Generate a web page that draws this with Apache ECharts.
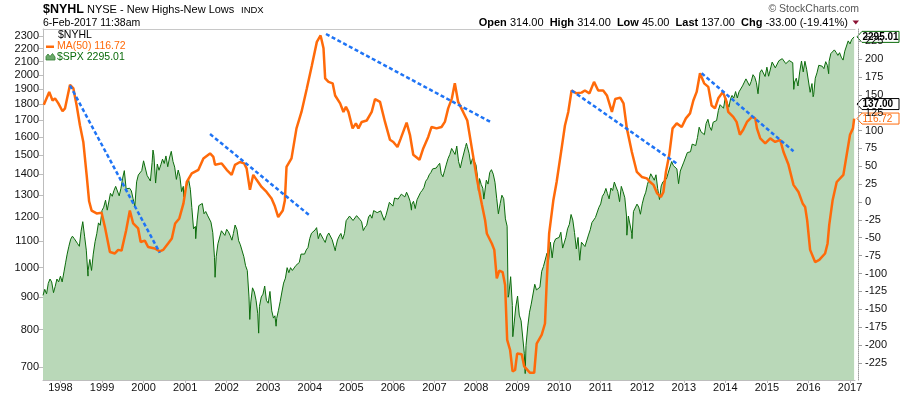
<!DOCTYPE html>
<html>
<head>
<meta charset="utf-8">
<script src="https://cdn.jsdelivr.net/npm/echarts@6/dist/echarts.min.js"></script>
<style>
  html, body { margin: 0; padding: 0; background: #fff; }
  #chart { width: 900px; height: 396px; }
</style>
</head>
<body>
<div id="chart"></div>
<script>
// x axis labels
const yearLabels = [1998, 1999, 2000, 2001, 2002, 2003, 2004, 2005, 2006, 2007,
  2008, 2009, 2010, 2011, 2012, 2013, 2014, 2015, 2016, 2017]
const leftTicks = [700, 800, 900, 1000, 1100, 1200, 1300, 1400, 1500, 1600, 1700,
  1800, 1900, 2000, 2100, 2200, 2300]
const rightTicks = [-225, -200, -175, -150, -125, -100, -75, -50, -25, 0,
  25, 50, 75, 100, 125, 150, 175, 200, 225]

// $SPX, read on the 1st and 16th of each month, starting Aug 1997
const spxHalfMonth = [
  905, 925, 910, 945, 960, 950, 914, 935, 960, 950,
  970, 950, 985, 1020, 1050, 1080, 1108, 1120, 1111, 1105, 1090, 1080, 1140, 1180, 1120, 1065, 990, 1030, 990, 1050, 1098, 1130, 1175, 1165,
  1229, 1243, 1275, 1230, 1238, 1307, 1293, 1320, 1340, 1337, 1295, 1330, 1380, 1418, 1328, 1330, 1331, 1318, 1282, 1247, 1362, 1396, 1397, 1418,
  1469, 1465, 1394, 1387, 1366, 1460, 1499, 1356, 1452, 1420, 1448, 1478, 1455, 1495, 1438, 1484, 1520, 1466, 1436, 1374, 1421, 1389, 1315, 1340,
  1320, 1318, 1373, 1326, 1241, 1150, 1160, 1183, 1250, 1250, 1260, 1214, 1224, 1208, 1211, 1178, 1134, 1038, 1040, 1090, 1084, 1142, 1139, 1123,
  1148, 1138, 1122, 1104, 1131, 1166, 1147, 1102, 1086, 1091, 1040, 1007, 990, 900, 884, 930, 916, 889, 847, 870, 900, 909, 936, 889,
  880, 918, 856, 834, 841, 833, 858, 885, 916, 946, 963, 1000, 982, 1000, 990, 990, 1008, 1015, 1019, 1050, 1050, 1050, 1066, 1075,
  1111, 1132, 1131, 1145, 1155, 1110, 1132, 1130, 1107, 1095, 1121, 1133, 1140, 1106, 1102, 1075, 1105, 1120, 1131, 1108, 1130, 1184, 1191, 1204,
  1212, 1185, 1189, 1206, 1210, 1190, 1180, 1143, 1156, 1165, 1200, 1210, 1195, 1228, 1235, 1219, 1220, 1227, 1229, 1186, 1207, 1235, 1265, 1270,
  1248, 1285, 1280, 1280, 1291, 1303, 1295, 1290, 1312, 1294, 1270, 1256, 1270, 1237, 1277, 1285, 1311, 1321, 1335, 1365, 1377, 1397, 1409, 1427,
  1418, 1431, 1445, 1456, 1403, 1387, 1420, 1452, 1482, 1503, 1536, 1532, 1503, 1549, 1465, 1432, 1474, 1484, 1547, 1548, 1509, 1451, 1481, 1468,
  1447, 1380, 1378, 1349, 1331, 1288, 1370, 1351, 1409, 1423, 1400, 1360, 1284, 1214, 1260, 1298, 1282, 1192, 1161, 908, 968, 873, 816, 868,
  903, 843, 826, 827, 735, 756, 811, 852, 877, 882, 942, 923, 923, 932, 987, 1004, 998, 1053, 1030, 1096, 1036, 1093, 1109, 1107,
  1115, 1136, 1073, 1075, 1115, 1150, 1169, 1211, 1187, 1135, 1070, 1115, 1027, 1096, 1101, 1079, 1080, 1125, 1146, 1176, 1184, 1198, 1206, 1242,
  1258, 1293, 1307, 1330, 1306, 1281, 1332, 1320, 1361, 1337, 1315, 1268, 1340, 1316, 1286, 1204, 1204, 1209, 1131, 1224, 1219, 1257, 1244, 1212,
  1258, 1289, 1312, 1350, 1374, 1402, 1408, 1370, 1397, 1330, 1278, 1342, 1362, 1356, 1376, 1405, 1406, 1465, 1444, 1440, 1427, 1353, 1416, 1413,
  1462, 1472, 1513, 1519, 1518, 1560, 1562, 1552, 1597, 1658, 1631, 1626, 1614, 1680, 1706, 1661, 1639, 1688, 1695, 1698, 1762, 1798, 1800, 1775,
  1848, 1848, 1782, 1838, 1859, 1841, 1885, 1842, 1883, 1870, 1924, 1937, 1973, 1973, 1925, 1955, 2003, 1985, 1946, 1862, 2018, 2039, 2053, 1990,
  2058, 1992, 1995, 2096, 2104, 2053, 2059, 2106, 2108, 2122, 2111, 2084, 2077, 2108, 2104, 2091, 1950, 1978, 1923, 2023, 2104, 2023, 2102, 2043,
  2044, 1880, 1940, 1864, 1978, 2016, 2072, 2081, 2065, 2047, 2099, 2071, 2102, 2161, 2170, 2190, 2170, 2147, 2168, 2133, 2111, 2180, 2191, 2262,
  2238, 2274, 2279
]
// extra $SPX points at the visible swings
const spxExtraDates = ['1998-08-31', '2000-03-24', '2000-12-20', '2001-04-04', '2001-09-21',
  '2002-07-23', '2002-10-09', '2003-03-11', '2004-08-12', '2005-04-20', '2006-06-13',
  '2007-10-09', '2008-01-22', '2008-03-10', '2008-10-10', '2008-11-20', '2009-03-09',
  '2010-07-02', '2011-08-19', '2011-10-03', '2012-06-04', '2014-10-15', '2015-08-25',
  '2016-02-11', '2016-06-27', '2017-02-06']
const spxExtraValues = [970, 1527, 1290, 1110, 966,
  830, 790, 810, 1063, 1140, 1230,
  1565, 1320, 1280, 899, 780, 683,
  1022, 1124, 1110, 1280, 1870, 1900,
  1850, 2010, 2295.01]

// $NYHL MA(50), decimal years and values
const nyhlYears = [
  1997.60, 1997.73, 1997.81, 1997.87, 1997.95, 1998.05, 1998.11, 1998.23, 1998.31, 1998.39,
  1998.47, 1998.55, 1998.63, 1998.69, 1998.75, 1998.87, 1998.99, 1999.07, 1999.19, 1999.31,
  1999.39, 1999.47, 1999.58, 1999.67, 1999.75, 1999.87, 1999.93, 2000.03, 2000.11, 2000.27,
  2000.39, 2000.47, 2000.59, 2000.68, 2000.76, 2000.86, 2000.96, 2001.04, 2001.16, 2001.32,
  2001.44, 2001.60, 2001.68, 2001.72, 2001.88, 2002.00, 2002.12, 2002.20, 2002.32, 2002.42,
  2002.48, 2002.56, 2002.64, 2002.72, 2002.84, 2002.96, 2003.08, 2003.16, 2003.24, 2003.35,
  2003.40, 2003.44, 2003.56, 2003.68, 2003.80, 2003.93, 2004.05, 2004.17, 2004.26, 2004.33,
  2004.37, 2004.45, 2004.55, 2004.61, 2004.73, 2004.81, 2004.87, 2004.93, 2005.03, 2005.11,
  2005.17, 2005.25, 2005.37, 2005.49, 2005.57, 2005.69, 2005.81, 2005.93, 2006.01, 2006.11,
  2006.19, 2006.33, 2006.41, 2006.49, 2006.64, 2006.73, 2006.85, 2006.93, 2007.05, 2007.17,
  2007.25, 2007.33, 2007.42, 2007.49, 2007.57, 2007.69, 2007.79, 2007.90, 2008.02, 2008.14,
  2008.22, 2008.26, 2008.38, 2008.44, 2008.50, 2008.56, 2008.64, 2008.70, 2008.75, 2008.82,
  2008.88, 2008.94, 2008.99, 2009.10, 2009.16, 2009.30, 2009.40, 2009.46, 2009.58, 2009.66,
  2009.70, 2009.76, 2009.86, 2009.94, 2010.06, 2010.14, 2010.22, 2010.30, 2010.42, 2010.54,
  2010.62, 2010.73, 2010.84, 2010.94, 2011.06, 2011.15, 2011.27, 2011.35, 2011.47, 2011.55,
  2011.63, 2011.75, 2011.87, 2011.99, 2012.11, 2012.19, 2012.27, 2012.36, 2012.45, 2012.51,
  2012.57, 2012.65, 2012.73, 2012.83, 2012.95, 2013.05, 2013.15, 2013.23, 2013.31, 2013.39,
  2013.49, 2013.59, 2013.67, 2013.75, 2013.83, 2013.94, 2014.02, 2014.07, 2014.19, 2014.27,
  2014.35, 2014.43, 2014.52, 2014.64, 2014.72, 2014.76, 2014.84, 2014.96, 2015.08, 2015.20,
  2015.32, 2015.40, 2015.52, 2015.64, 2015.76, 2015.86, 2015.92, 2015.97, 2016.04, 2016.16,
  2016.26, 2016.40, 2016.46, 2016.50, 2016.58, 2016.68, 2016.84, 2016.92, 2017.00, 2017.07,
  2017.10
]
const nyhlMA = [
  136, 154, 142, 145, 138, 127, 131, 164, 159, 135,
  107, 84, 38, 1, -12, -16, -15, -35, -70, -72,
  -67, -68, -40, -12, -30, -37, -56, -54, -63, -65,
  -69, -67, -58, -51, -30, -23, -2, 28, 40, 45,
  61, 68, 63, 52, 54, 45, 38, 52, 56, 54,
  47, 17, 38, 31, 21, 14, 5, -6, -21, -12,
  2, 49, 61, 103, 126, 159, 191, 224, 233, 215,
  173, 168, 166, 149, 138, 126, 133, 126, 103, 110,
  103, 112, 114, 126, 144, 140, 112, 87, 84, 77,
  89, 111, 94, 66, 59, 75, 91, 105, 103, 105,
  112, 131, 145, 166, 140, 126, 114, 75, 33, -3,
  -26, -44, -58, -67, -107, -96, -98, -116, -193, -207,
  -237, -235, -212, -213, -230, -239, -239, -198, -186, -170,
  -114, -44, 2, 28, 75, 107, 126, 156, 152, 153,
  156, 152, 168, 156, 156, 149, 126, 144, 146, 138,
  103, 70, 42, 35, 33, 28, 24, 12, 7, 14,
  42, 66, 103, 110, 105, 117, 124, 142, 154, 180,
  166, 161, 135, 131, 145, 154, 142, 126, 119, 112,
  94, 101, 112, 119, 117, 103, 89, 82, 89, 84,
  87, 70, 52, 24, 14, -2, -7, -26, -67, -84,
  -81, -72, -58, -32, 2, 28, 38, 66, 94, 103,
  116.72
]

// hand-drawn trend lines (on the $NYHL scale)
const trendStartYear = [1998.23, 2001.60, 2004.39, 2010.30, 2013.43]
const trendStartValue = [163, 95, 235, 156, 180]
const trendEndYear = [2000.39, 2004.00, 2008.38, 2012.85, 2015.64]
const trendEndValue = [-71, -19, 111, 53, 71]

const lastSpx = 2295.01
const lastNyhl = 137.00
const lastMA = 116.72

const FONT = '"Liberation Sans", Arial, sans-serif'

function decYear(y, m, d) {
  const t0 = Date.UTC(y, 0, 1), t1 = Date.UTC(y + 1, 0, 1)
  return y + (Date.UTC(y, m - 1, d) - t0) / (t1 - t0)
}

const spxPoints = []
spxHalfMonth.forEach((v, i) => {
  const m = 7 + Math.floor(i / 2)
  spxPoints.push([decYear(1997 + Math.floor(m / 12), (m % 12) + 1, i % 2 ? 16 : 1), v])
})
spxExtraDates.forEach((s, i) => {
  const [y, m, d] = s.split('-').map(Number)
  spxPoints.push([decYear(y, m, d), spxExtraValues[i]])
})
spxPoints.sort((a, b) => a[0] - b[0])

const xMin = 1997.58
const xMax = 2017.12

const chart = echarts.init(document.getElementById('chart'))

const trendSeries = trendStartYear.map((y0, i) => ({
  type: 'line',
  yAxisIndex: 1,
  silent: true,
  showSymbol: false,
  data: [[y0, trendStartValue[i]], [trendEndYear[i], trendEndValue[i]]],
  lineStyle: { color: '#1f74f5', width: 2.5, type: [4, 2.5] },
  z: 5
}))

chart.setOption({
  animation: false,
  textStyle: { fontFamily: FONT },
  grid: { left: 43, right: 45, top: 29, bottom: 16 },
  xAxis: [
    {
      type: 'value',
      min: xMin,
      max: xMax,
      axisLine: { onZero: false, lineStyle: { color: '#bdbdbd' } },
      axisTick: { customValues: yearLabels, length: 3, lineStyle: { color: '#bdbdbd' } },
      axisLabel: {
        customValues: yearLabels,
        formatter: v => String(Math.round(v)),
        color: '#111',
        fontSize: 11,
        margin: 2
      },
      splitLine: { show: false }
    },
    {
      type: 'value',
      position: 'top',
      min: xMin,
      max: xMax,
      axisLine: { show: true, onZero: false, lineStyle: { color: '#c8c8c8' } },
      axisTick: { show: false },
      axisLabel: { show: false },
      splitLine: { show: false }
    }
  ],
  yAxis: [
    {
      type: 'value',
      position: 'left',
      min: Math.log10(667.4),
      max: Math.log10(2361),
      axisLine: { show: true, onZero: false, lineStyle: { color: '#bdbdbd' } },
      axisTick: { show: true, customValues: leftTicks.map(Math.log10), length: 4, lineStyle: { color: '#bdbdbd' } },
      axisLabel: {
        customValues: leftTicks.map(Math.log10),
        formatter: v => String(Math.round(Math.pow(10, v))),
        color: '#111',
        fontSize: 11,
        margin: 4
      },
      splitLine: { show: false }
    },
    {
      type: 'value',
      position: 'right',
      offset: 3,
      min: -249,
      max: 242,
      axisLine: { show: true, onZero: false, lineStyle: { color: '#a0a0a0', type: 'dotted' } },
      axisTick: { show: true, customValues: rightTicks, length: 4, lineStyle: { color: '#a0a0a0' } },
      axisLabel: {
        customValues: rightTicks,
        color: '#111',
        fontSize: 11,
        margin: 7
      },
      splitLine: { show: false }
    }
  ],
  series: [
    {
      name: '$SPX',
      type: 'line',
      yAxisIndex: 0,
      silent: true,
      showSymbol: false,
      data: spxPoints.map(p => [p[0], Math.log10(p[1])]),
      lineStyle: { color: '#0b6b0b', width: 1 },
      areaStyle: { color: '#b9d8b8', opacity: 1, origin: 'start' },
      z: 2
    },
    {
      name: 'MA(50)',
      type: 'line',
      yAxisIndex: 1,
      silent: true,
      showSymbol: false,
      data: nyhlYears.map((y, i) => [y, nyhlMA[i]]),
      lineStyle: { color: '#ff6a0a', width: 2.5 },
      z: 3
    },
    ...trendSeries
  ]
})

// price tags on the right edge
function tag(value, axis, text, border, color, bold) {
  const y = chart.convertToPixel({ yAxisIndex: axis }, value)
  return {
    type: 'group',
    z: 100,
    children: [
      {
        type: 'polygon',
        shape: { points: [[857, y], [862, y - 5.5], [899, y - 5.5], [899, y + 5.5], [862, y + 5.5]] },
        style: { fill: '#fff', stroke: border, lineWidth: 1 }
      },
      {
        type: 'text',
        style: {
          x: 862.5, y: y + 0.5, text,
          fill: color,
          font: (bold ? 'bold ' : '') + '10px ' + FONT,
          verticalAlign: 'middle'
        }
      }
    ]
  }
}

function txt(x, y, text, font, fill, align) {
  return { type: 'text', z: 100, style: { x, y, text, font: font + ' ' + FONT, fill, align: align || 'left', verticalAlign: 'middle' } }
}

chart.setOption({
  graphic: [
    // header
    txt(43, 10, '$NYHL', 'bold 12.5px', '#000'),
    txt(87, 10, 'NYSE - New Highs-New Lows', '11px', '#000'),
    txt(241, 10.5, 'INDX', '9.5px', '#000'),
    txt(43, 23, '6-Feb-2017 11:38am', '10.5px', '#000'),
    txt(859, 9.5, '\u00a9 StockCharts.com', '10.5px', '#555', 'right'),
    {
      type: 'text',
      z: 100,
      style: {
        x: 848, y: 22.5,
        text: '{b|Open} 314.00  {b|High} 314.00  {b|Low} 45.00  {b|Last} 137.00  {b|Chg} -33.00 (-19.41%)',
        font: '11px ' + FONT,
        fill: '#000',
        align: 'right',
        verticalAlign: 'middle',
        rich: { b: { fontWeight: 'bold', fontSize: 11, fontFamily: FONT, fill: '#000' } }
      }
    },
    { type: 'polygon', z: 100, shape: { points: [[852.5, 20.5], [859, 20.5], [855.75, 24.5]] }, style: { fill: '#8c1234' } },
    // legend inside the plot
    txt(58, 35.5, '$NYHL', '10.5px', '#000'),
    { type: 'rect', z: 100, shape: { x: 46, y: 45.5, width: 8, height: 2.5 }, style: { fill: '#ff6a0a' } },
    txt(57, 46.5, 'MA(50) 116.72', '10.5px', '#ff6a0a'),
    {
      type: 'polygon',
      z: 100,
      shape: { points: [[46, 60], [46, 56.5], [48, 54], [50, 56.5], [52.5, 53.5], [55, 57], [55, 60]] },
      style: { fill: '#6aa86a', stroke: '#2f7f2f', lineWidth: 0.8 }
    },
    txt(57, 57, '$SPX 2295.01', '10.5px', '#0b6b0b'),
    // right-edge tags
    tag(Math.log10(lastSpx), 0, lastSpx.toFixed(2), '#0b6b0b', '#000', true),
    tag(lastNyhl, 1, lastNyhl.toFixed(2), '#000', '#000', true),
    tag(lastMA, 1, lastMA.toFixed(2), '#ff6a0a', '#ff6a0a', false)
  ]
})
</script>
</body>
</html>
